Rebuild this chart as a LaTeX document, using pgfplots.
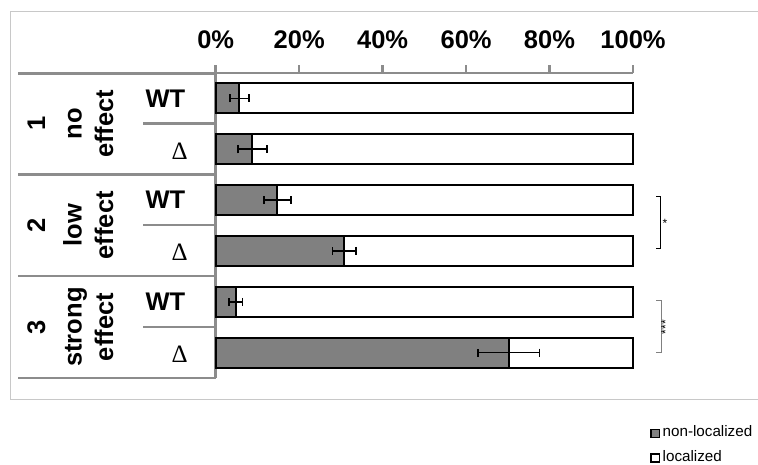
\documentclass[border=0pt]{standalone}
\usepackage{pgfplots}
\pgfplotsset{compat=1.18}
\usepackage{fontspec}
\setmainfont{Liberation Sans}
\newfontfamily\seriffont{Liberation Serif}
\definecolor{barGray}{RGB}{128,128,128}
\definecolor{lineGray}{RGB}{140,140,140}
\definecolor{frameGray}{RGB}{200,200,200}
\newcommand\bigbf{\fontsize{25.5}{29}\selectfont\bfseries}
\pgfplotstableread{
y  nonloc err  loc
5  5.7    2.3  94.3
4  8.8    3.4  91.2
3  14.8   3.2  85.2
2  30.8   2.8  69.2
1  4.8    1.6  95.2
0  70.2   7.4  29.8
}\datatable
\begin{document}
\begin{tikzpicture}
\useasboundingbox (0,0) rectangle (758pt,-464pt);
\draw[frameGray, line width=1pt] (762pt,-11pt) -- (10pt,-11pt) -- (10pt,-399pt) -- (762pt,-399pt);
\begin{axis}[
  at={(215.7pt,-378pt)}, anchor=south west,
  scale only axis, width=417.3pt, height=305pt,
  xmin=0, xmax=100, ymin=-0.5, ymax=5.5,
  xbar stacked, bar width=30pt,
  axis x line*=top, axis y line*=left,
  axis line style={lineGray, line width=2.5pt},
  xtick={0,20,40,60,80,100},
  xticklabels={},
  ytick=\empty,
  tick align=outside, major tick length=8pt,
  x tick style={lineGray, line width=2.5pt},
  clip=false,
]
\addplot[fill=barGray, draw=black, line width=2pt] table[x=nonloc, y=y] {\datatable};
\addplot[fill=white, draw=black, line width=2pt] table[x=loc, y=y] {\datatable};
\end{axis}
\begin{axis}[
  at={(215.7pt,-378pt)}, anchor=south west,
  scale only axis, width=417.3pt, height=305pt,
  xmin=0, xmax=100, ymin=-0.5, ymax=5.5,
  hide axis, clip=false,
]
\addplot[draw=none, mark=none,
  error bars/.cd, x dir=both, x explicit,
  error mark=|,
  error bar style={draw=black, solid, line width=1.8pt},
  error mark options={draw=black, solid, line width=1.8pt, mark size=4pt}]
  table[x=nonloc, y=y, x error=err] {\datatable};
\end{axis}
% tick labels
\foreach \v/\x in {0/215.7, 20/299.2, 40/382.6, 60/466.1, 80/549.5, 100/633}
  \node[anchor=base, inner sep=0pt, font=\bigbf] at (\x pt,-48pt) {\v\%};
% table lines
\begin{scope}[lineGray, line width=2.5pt]
\foreach \y in {73.3,174.3,276,378} \draw (18pt,-\y pt) -- (215.7pt,-\y pt);
\foreach \y in {123.7,225.2,327} \draw (143pt,-\y pt) -- (215.7pt,-\y pt);
\end{scope}
% group labels
\foreach \c/\n/\a/\b in {123.7/1/no/effect, 225.2/2/low/effect, 327/3/strong/effect}{
  \node[rotate=90, anchor=base, inner sep=0pt, font=\bigbf] at (45pt,-\c pt) {\n};
  \node[rotate=90, anchor=base, inner sep=0pt, font=\bigbf] at (81.7pt,-\c pt) {\a};
  \node[rotate=90, anchor=base, inner sep=0pt, font=\bigbf] at (113pt,-\c pt) {\b};
}
\foreach \y in {107,208.7,310.3}
  \node[anchor=base east, inner sep=0pt, font=\bigbf] at (185.5pt,-\y pt) {WT};
\foreach \y in {159,260.7,362.3}
  \node[anchor=base east, inner sep=0pt, font=\seriffont\fontsize{25}{29}\selectfont] at (188pt,-\y pt) {Δ};
% significance brackets
\draw[black, line width=0.9pt] (656pt,-196.7pt) -- (660.3pt,-196.7pt) -- (660.3pt,-248.3pt) -- (656pt,-248.3pt);
\node[font=\fontsize{12}{14}\selectfont, inner sep=0pt] at (665pt,-223pt) {*};
\draw[gray, line width=0.9pt] (656pt,-300pt) -- (661pt,-300pt) -- (661pt,-352pt) -- (656pt,-352pt);
\node[rotate=90, font=\fontsize{12}{14}\selectfont, inner sep=0pt] at (665.5pt,-327pt) {***};
% legend
\draw[black, line width=1.5pt, fill=barGray] (651pt,-429.5pt) rectangle (659.5pt,-437.5pt);
\draw[black, line width=1.5pt, fill=white] (651pt,-454pt) rectangle (659.5pt,-462pt);
\node[anchor=base west, inner sep=0pt, font=\fontsize{15.2}{18}\selectfont] at (662.5pt,-436.7pt) {non-localized};
\node[anchor=base west, inner sep=0pt, font=\fontsize{15.2}{18}\selectfont] at (662.5pt,-461.7pt) {localized};
\end{tikzpicture}
\end{document}
